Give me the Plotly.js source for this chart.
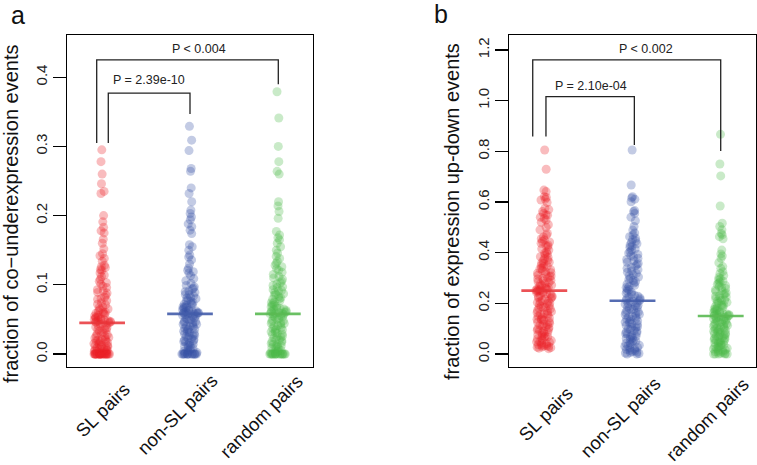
<!DOCTYPE html>
<html><head><meta charset="utf-8">
<script src="https://cdn.plot.ly/plotly-3.0.1.min.js"></script>
<style>html,body{margin:0;padding:0;background:#fff}#chart{width:757px;height:465px}</style>
</head><body><div id="chart"></div>
<script>
// ---------- data ----------
const categories = ['SL pairs', 'non-SL pairs', 'random pairs'];
const panelLetters = ['a', 'b'];
const yTitles = ['fraction of co\u2212underexpression events', 'fraction of expression up-down events'];
const tickValsA = [0, 0.1, 0.2, 0.3, 0.4];
const tickTextA = ['0.0', '0.1', '0.2', '0.3', '0.4'];
const tickValsB = [0, 0.2, 0.4, 0.6, 0.8, 1.0, 1.2];
const tickTextB = ['0.0', '0.2', '0.4', '0.6', '0.8', '1.0', '1.2'];

// panel a: fraction of co-underexpression events
const slA = [0.295,0.278,0.260,0.246,0.235,0.232,0.200,0.191,0.183,0.178,0.175,0.166,0.160,0.152,0.145,0.142,
  0.138,0.134,0.128,0.126,0.125,0.122,0.121,0.117,0.114,0.112,0.108,0.105,0.103,0.101,
  0.098,0.096,0.093,0.091,0.089,0.088,0.085,0.082,0.080,0.079,0.077,0.074,0.072,0.071,0.068,0.067,0.065,0.064,0.062,0.061,
  0.060,0.059,0.059,0.057,0.056,0.055,0.053,0.053,0.052,0.051,0.050,0.050,0.049,0.048,0.048,0.047,0.047,0.046,0.046,0.045,
  0.044,0.043,0.041,0.041,0.039,0.038,0.036,0.035,0.035,0.033,0.031,0.030,0.029,0.028,0.026,0.025,0.024,0.023,0.022,0.021,
  0.020,0.019,0.019,0.018,0.017,0.016,0.015,0.014,0.013,0.012,0.012,0.011,0.010,0.009,0.009,0.008,0.007,0.006,0.006,0.005,
  0.004,0.004,0.003,0.002,0.002,0.001,0,0,0,0,0,0,0,0,0,0,0,0,0,0,0,0,0,0,0,0,0,0,0,0];
const nonSlA = [0.329,0.309,0.294,0.268,0.264,0.240,0.232,0.220,0.208,0.203,0.198,0.194,0.188,0.184,0.179,0.174,
  0.158,0.155,0.150,0.143,0.140,0.136,0.130,0.124,0.121,0.119,0.117,0.113,0.109,0.106,0.102,
  0.099,0.097,0.095,0.094,0.091,0.090,0.089,0.086,0.086,0.084,0.082,0.081,0.080,0.078,0.077,0.076,0.074,0.073,0.072,0.071,
  0.070,0.068,0.068,0.067,0.066,0.064,0.064,0.063,0.062,0.062,0.061,0.060,0.060,0.059,0.059,0.059,0.058,0.058,0.058,
  0.057,0.056,0.055,0.054,0.052,0.052,0.051,0.050,0.049,0.047,0.047,0.046,0.045,0.043,0.043,0.042,0.040,0.040,0.039,0.037,
  0.036,0.036,0.035,0.033,0.032,0.031,0.030,0.029,0.027,0.027,0.026,0.025,0.023,0.022,0.021,0.020,0.019,0.018,0.017,0.016,
  0.014,0.013,0.012,0.011,0.010,0.009,0.008,0.006,0.005,0.004,0.003,0.002,0.001,0,0,0,0,0,0,0,0,0,0,0,0,0,0];
const randomA = [0.379,0.341,0.300,0.278,0.264,0.260,0.220,0.214,0.206,0.196,0.177,0.172,0.168,0.165,0.160,0.155,
  0.150,0.146,0.141,0.138,0.134,0.131,0.128,0.126,0.123,0.121,0.118,0.115,0.112,0.110,0.108,0.105,0.103,0.101,
  0.099,0.097,0.096,0.093,0.092,0.091,0.089,0.087,0.086,0.085,0.083,0.081,0.080,0.079,0.077,0.075,0.074,0.073,0.071,0.070,
  0.069,0.068,0.066,0.066,0.065,0.064,0.063,0.062,0.061,0.061,0.060,0.060,0.059,0.059,0.058,0.058,
  0.057,0.055,0.055,0.054,0.053,0.051,0.050,0.049,0.048,0.047,0.045,0.044,0.044,0.042,0.041,0.040,0.038,0.037,0.036,0.035,
  0.034,0.032,0.031,0.030,0.029,0.028,0.026,0.025,0.024,0.023,0.021,0.020,0.019,0.018,0.017,0.015,0.014,0.013,0.012,0.011,
  0.010,0.009,0.008,0.007,0.005,0.004,0.003,0.002,0.001,0,0,0,0,0,0,0,0,0,0,0,0,0,0,0,0];

// panel b: fraction of expression up-down events
const slB = [0.805,0.729,0.647,0.641,0.621,0.618,0.611,0.608,0.598,0.575,0.570,0.562,0.555,0.549,0.548,0.540,0.535,0.529,
  0.520,0.510,0.500,0.490,0.476,0.470,0.462,0.455,0.450,0.445,0.442,0.437,0.430,0.428,0.424,0.415,0.410,0.403,
  0.398,0.395,0.391,0.384,0.381,0.377,0.370,0.368,0.362,0.359,0.357,0.350,0.347,0.344,0.338,0.336,0.333,0.329,0.325,0.321,
  0.319,0.314,0.311,0.308,0.306,0.301,0.298,0.296,0.291,0.289,0.285,0.282,0.279,0.277,0.272,0.270,0.267,0.264,0.262,0.259,
  0.257,0.255,0.254,0.252,0.251,0.250,
  0.248,0.246,0.244,0.241,0.238,0.236,0.231,0.229,0.227,0.225,0.222,0.220,0.216,0.211,0.209,0.206,0.203,0.201,0.199,0.195,
  0.190,0.188,0.185,0.183,0.181,0.178,0.172,0.170,0.167,0.163,0.160,0.158,0.156,0.153,0.149,0.146,0.142,0.139,0.137,0.135,
  0.133,0.128,0.125,0.121,0.118,0.116,0.114,0.111,0.108,0.104,0.100,0.097,0.094,0.092,0.090,0.087,0.083,0.080,0.076,0.073,
  0.070,0.068,0.066,0.063,0.059,0.056,0.053,0.049,0.048,0.046,0.043,0.040,0.037,0.035,0.033,0.032,0.030,0.028,0.027,0.025,
  0.023,0.021];
const nonSlB = [0.805,0.667,0.621,0.616,0.611,0.601,0.566,0.562,0.555,0.540,0.526,0.503,0.489,0.478,0.470,0.463,0.457,0.452,
  0.446,0.441,0.435,0.430,0.426,0.421,0.415,0.410,0.404,0.399,0.393,0.388,0.384,0.378,0.373,0.368,0.362,0.357,0.353,0.348,
  0.342,0.338,0.333,0.328,0.323,0.318,0.313,0.309,0.304,0.299,0.294,0.290,0.285,0.280,0.276,0.271,0.266,0.262,0.257,0.253,
  0.248,0.244,0.240,0.236,0.232,0.228,0.225,0.221,0.218,0.215,0.212,0.210,
  0.208,0.206,0.201,0.199,0.197,0.192,0.190,0.186,0.184,0.180,0.176,0.175,0.171,0.166,0.164,0.162,0.157,0.155,0.150,0.148,
  0.146,0.141,0.138,0.136,0.131,0.129,0.126,0.122,0.119,0.117,0.112,0.108,0.106,0.104,0.099,0.097,0.092,0.090,0.087,0.083,
  0.080,0.078,0.073,0.070,0.068,0.063,0.061,0.058,0.054,0.051,0.048,0.045,0.042,0.039,0.035,0.032,0.030,0.026,0.024,0.020,
  0.018,0.015,0.013,0.010,0.008,0.006,0.004,0.002,0,0];
const randomB = [0.867,0.750,0.703,0.584,0.516,0.503,0.490,0.476,0.470,0.463,0.455,0.410,0.395,0.387,0.378,0.360,0.345,0.338,
  0.325,0.318,0.310,0.302,
  0.297,0.293,0.288,0.283,0.280,0.275,0.270,0.267,0.262,0.259,0.253,0.250,0.247,0.241,0.238,0.236,0.230,0.228,0.225,0.220,
  0.218,0.213,0.211,0.209,0.204,0.202,0.199,0.195,0.193,0.191,0.186,0.184,0.182,0.177,0.176,0.173,0.169,0.168,0.164,0.163,
  0.161,0.158,0.157,0.155,0.154,0.152,0.151,0.150,
  0.148,0.146,0.145,0.142,0.140,0.137,0.136,0.134,0.130,0.129,0.127,0.124,0.122,0.120,0.117,0.115,0.113,0.110,0.108,0.106,
  0.102,0.101,0.099,0.096,0.094,0.091,0.090,0.087,0.085,0.082,0.080,0.077,0.076,0.073,0.071,0.069,0.065,0.064,0.062,0.058,
  0.057,0.055,0.051,0.050,0.048,0.044,0.043,0.041,0.037,0.036,0.034,0.030,0.029,0.027,0.023,0.022,0.020,0.016,0.015,0.013,
  0.009,0.008,0.006,0.003,0.002,0,0,0,0,0];

const medianA = [0.045, 0.058, 0.058];
const medianB = [0.25, 0.21, 0.15];
const pLabelsA = ['P = 2.39e-10', 'P < 0.004'];
const pLabelsB = ['P = 2.10e-04', 'P < 0.002'];

// ---------- styles ----------
const pointColors = ['rgba(236,34,39,0.3)', 'rgba(57,83,164,0.3)', 'rgba(77,184,72,0.3)'];
const medianColors = ['rgba(232,52,56,0.85)', 'rgba(66,92,170,0.9)', 'rgba(90,185,82,0.9)'];
const FONT = 'Liberation Sans, Arial, Helvetica, sans-serif';
const W = 757, H = 465;

const panels = [
  {groups: [slA, nonSlA, randomA], medians: medianA, xa: 'x', ya: 'y'},
  {groups: [slB, nonSlB, randomB], medians: medianB, xa: 'x2', ya: 'y2'}
];

const traces = [];
panels.forEach(p => {
  p.groups.forEach((vals, i) => {
    traces.push({
      type: 'box', y: vals, x0: i + 1, width: 0.19,
      boxpoints: 'all', jitter: 1, pointpos: 0,
      marker: {color: pointColors[i], size: 9, line: {width: 0}},
      line: {width: 0, color: 'rgba(0,0,0,0)'}, fillcolor: 'rgba(0,0,0,0)',
      xaxis: p.xa, yaxis: p.ya, showlegend: false, hoverinfo: 'skip', name: categories[i]
    });
  });
  p.medians.forEach((m, i) => {
    traces.push({
      type: 'scatter', mode: 'lines', x: [i + 1 - 0.26, i + 1 + 0.26], y: [m, m],
      line: {color: medianColors[i], width: 2.6},
      xaxis: p.xa, yaxis: p.ya, showlegend: false, hoverinfo: 'skip'
    });
  });
});

function bracket(xr, yr, xl, xrt, ytop, yl, yrb) {
  return {type: 'path', xref: xr, yref: yr,
    path: `M ${xl},${yl} L ${xl},${ytop} L ${xrt},${ytop} L ${xrt},${yrb}`,
    line: {color: '#222', width: 1.3}};
}
const shapes = [
  bracket('x', 'y', 1.07, 2.0, 0.377, 0.305, 0.347),
  bracket('x', 'y', 0.938, 3.005, 0.425, 0.305, 0.390),
  bracket('x2', 'y2', 1.019, 2.021, 1.016, 0.858, 0.825),
  bracket('x2', 'y2', 0.869, 3.0, 1.161, 0.858, 0.801)
];

const px = v => v / W, py = v => 1 - v / H;
const annotations = [];
[[18, 15], [441, 14]].forEach((c, k) => annotations.push({
  text: panelLetters[k], xref: 'paper', yref: 'paper', x: px(c[0]), y: py(c[1]),
  xanchor: 'center', yanchor: 'middle', showarrow: false, font: {family: FONT, size: 25, color: '#111'}}));
[[11, 214], [452, 212]].forEach((c, k) => annotations.push({
  text: yTitles[k], xref: 'paper', yref: 'paper', x: px(c[0]), y: py(c[1]), textangle: -90,
  xanchor: 'center', yanchor: 'middle', showarrow: false, font: {family: FONT, size: 20, color: '#111'}}));
const labelCenters = [[[102, 410], [177, 414], [261, 416]], [[545, 414], [620, 417], [707, 419]]];
labelCenters.forEach(set => set.forEach((c, i) => annotations.push({
  text: categories[i], xref: 'paper', yref: 'paper', x: px(c[0]), y: py(c[1]), textangle: -45,
  xanchor: 'center', yanchor: 'middle', showarrow: false, font: {family: FONT, size: 18.5, color: '#111'}})));
[[1.528, 0.396], [2.097, 0.441]].forEach((c, k) => annotations.push({
  text: pLabelsA[k], xref: 'x', yref: 'y', x: c[0], y: c[1], xanchor: 'center', yanchor: 'middle',
  showarrow: false, font: {family: FONT, size: 12.5, color: '#222'}}));
[[1.530, 1.058], [2.150, 1.204]].forEach((c, k) => annotations.push({
  text: pLabelsB[k], xref: 'x2', yref: 'y2', x: c[0], y: c[1], xanchor: 'center', yanchor: 'middle',
  showarrow: false, font: {family: FONT, size: 12.5, color: '#222'}}));

const xBase = {range: [0.6, 3.4], showticklabels: false, ticks: '', showgrid: false, zeroline: false,
  showline: true, mirror: true, linecolor: '#000', linewidth: 1.2, fixedrange: true};
const yBase = {showgrid: false, zeroline: false, showline: true, mirror: true, linecolor: '#000', linewidth: 1.2,
  ticks: 'outside', ticklen: 13, tickwidth: 1.2, tickcolor: '#000', tickangle: -90,
  tickfont: {family: FONT, size: 15, color: '#222'}, fixedrange: true};
const yDomain = [1 - 367 / H, 1 - 35 / H];

const layout = {
  width: W, height: H, margin: {l: 0, r: 0, t: 0, b: 0},
  paper_bgcolor: '#fff', plot_bgcolor: '#fff', showlegend: false, hovermode: false,
  xaxis: Object.assign({}, xBase, {domain: [67 / W, 313 / W], anchor: 'y'}),
  xaxis2: Object.assign({}, xBase, {domain: [509 / W, 756 / W], anchor: 'y2'}),
  yaxis: Object.assign({}, yBase, {domain: yDomain, range: [-0.0188, 0.461], tickvals: tickValsA, ticktext: tickTextA, anchor: 'x'}),
  yaxis2: Object.assign({}, yBase, {domain: yDomain, range: [-0.0513, 1.259], tickvals: tickValsB, ticktext: tickTextB, anchor: 'x2'}),
  shapes: shapes, annotations: annotations, boxmode: 'overlay'
};

Plotly.newPlot('chart', traces, layout, {staticPlot: true, displayModeBar: false});
</script></body></html>
